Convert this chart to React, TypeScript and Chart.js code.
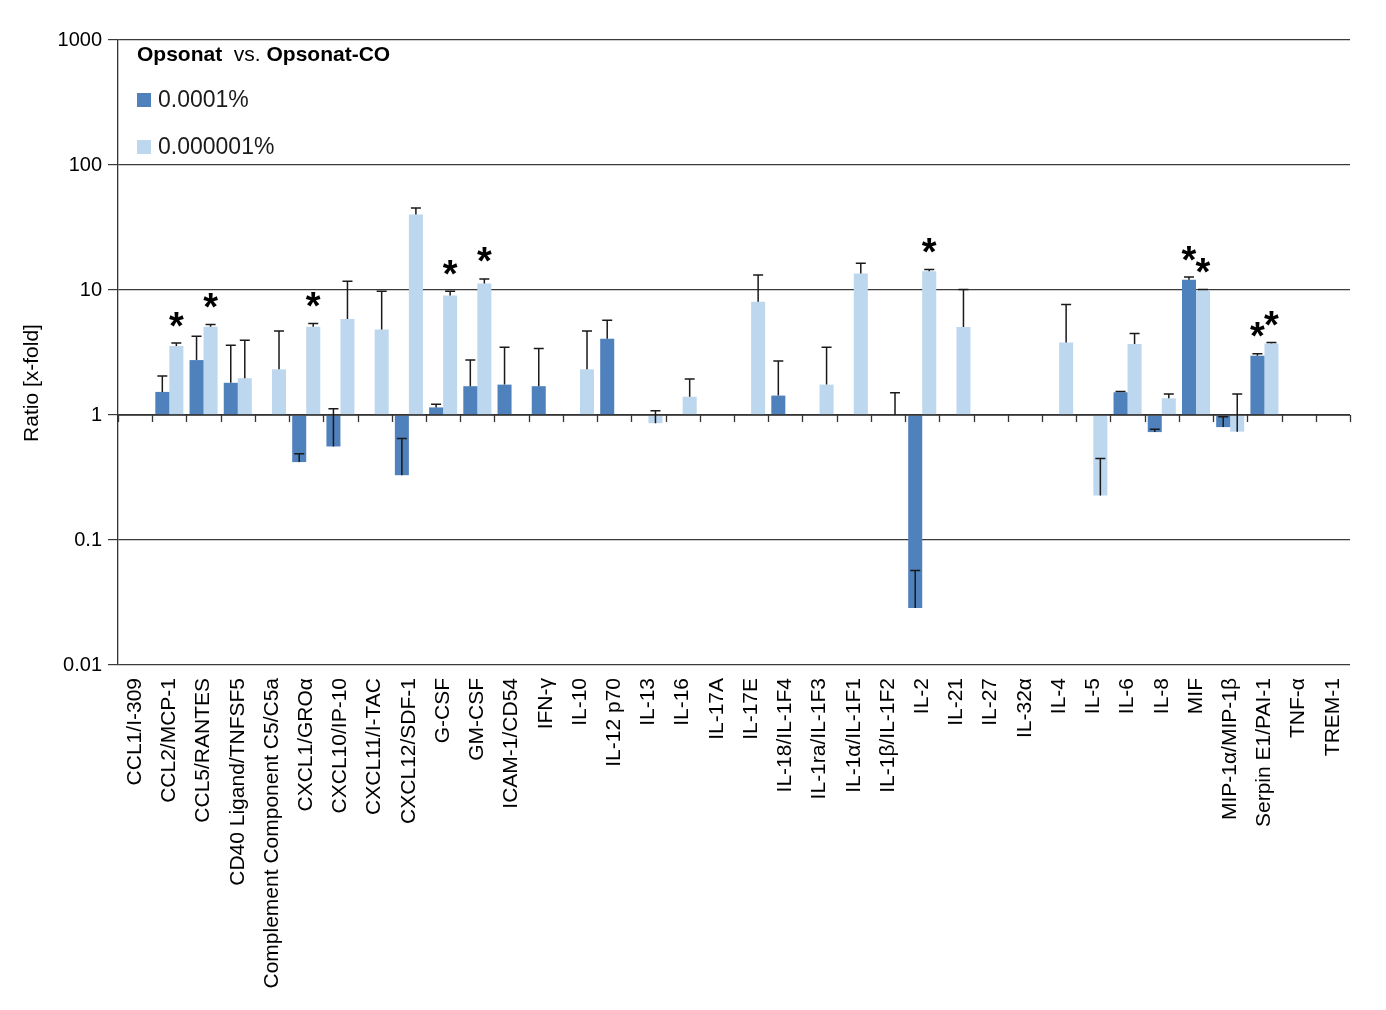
import { useEffect, useRef } from 'react';
import { Chart, registerables } from 'chart.js';

Chart.register(...registerables);

const FONT = '"Liberation Sans", Arial, Helvetica, sans-serif';

const categories = [
  'CCL1/I-309', 'CCL2/MCP-1', 'CCL5/RANTES', 'CD40 Ligand/TNFSF5', 'Complement Component C5/C5a',
  'CXCL1/GROα', 'CXCL10/IP-10', 'CXCL11/I-TAC', 'CXCL12/SDF-1', 'G-CSF', 'GM-CSF', 'ICAM-1/CD54',
  'IFN-γ', 'IL-10', 'IL-12 p70', 'IL-13', 'IL-16', 'IL-17A', 'IL-17E', 'IL-18/IL-1F4', 'IL-1ra/IL-1F3',
  'IL-1α/IL-1F1', 'IL-1β/IL-1F2', 'IL-2', 'IL-21', 'IL-27', 'IL-32α', 'IL-4', 'IL-5', 'IL-6', 'IL-8',
  'MIF', 'MIP-1α/MIP-1β', 'Serpin E1/PAI-1', 'TNF-α', 'TREM-1',
];

const seriesNames = ['0.0001%', '0.000001%'];
const seriesColors = ['#4F81BD', '#BDD7EE'];

// 0.0001% : ratio and upper end of the error bar
const highValues = [
  null, 1.53, 2.75, 1.81, null, 0.42, 0.56, null, 0.33, 1.15, 1.70, 1.75,
  1.70, null, 4.07, null, null, null, null, 1.43, null,
  null, null, 0.0286, null, null, null, null, null, 1.52, 0.73,
  12.1, 0.80, 2.98, null, null,
];
const highErrTop = [
  null, 2.05, 4.27, 3.62, null, 0.49, 1.12, null, 0.65, 1.22, 2.75, 3.49,
  3.41, null, 5.74, null, null, null, null, 2.70, null,
  null, null, 0.057, null, null, null, null, null, 1.54, 0.77,
  12.7, 0.97, 3.09, null, null,
];

// 0.000001% : ratio and upper end of the error bar
const lowValues = [
  null, 3.57, 5.07, 1.97, 2.32, 5.07, 5.85, 4.83, 40.1, 9.04, 11.27, null,
  null, 2.32, null, 0.86, 1.40, null, 8.04, null, 1.75,
  13.55, 1.0, 14.1, 5.05, null, null, 3.81, 0.227, 3.69, 1.36,
  9.96, 0.736, 3.74, null, null,
];
const lowErrTop = [
  null, 3.76, 5.30, 3.97, 4.69, 5.40, 11.75, 9.78, 45.3, 9.78, 12.27, null,
  null, 4.69, null, 1.08, 1.94, null, 13.2, null, 3.49,
  16.4, 1.51, 14.6, 10.1, null, null, 7.66, 0.448, 4.49, 1.47,
  10.1, 1.47, 3.81, null, null,
];

const highStars = ['MIF', 'Serpin E1/PAI-1'];
const lowStars = ['CCL2/MCP-1', 'CCL5/RANTES', 'CXCL1/GROα', 'G-CSF', 'GM-CSF', 'IL-2', 'MIF', 'Serpin E1/PAI-1'];

const yTicks = [0.01, 0.1, 1, 10, 100, 1000];
const yTitle = 'Ratio [x-fold]';
const legendTitle: [string, boolean][] = [['Opsonat', true], ['  vs. ', false], ['Opsonat-CO', true]];

const errTops = [highErrTop, lowErrTop];
const starLists = [highStars, lowStars];

const overlayPlugin = {
  id: 'overlay',
  afterDatasetsDraw(chart: any) {
    const ctx = chart.ctx;
    const y = chart.scales.y;
    const x = chart.scales.x;
    const area = chart.chartArea;
    ctx.save();

    // axis crossing at 1 with category tick marks
    const yBase = y.getPixelForValue(1);
    ctx.strokeStyle = '#333333';
    ctx.lineWidth = 1.3;
    ctx.beginPath();
    ctx.moveTo(area.left, yBase);
    ctx.lineTo(area.right, yBase);
    for (let i = 0; i <= categories.length; i++) {
      const px = Math.round(x.getPixelForValue(i - 0.5)) + 0.5;
      ctx.moveTo(px, yBase);
      ctx.lineTo(px, yBase + 7);
    }
    ctx.stroke();

    // error bars
    ctx.strokeStyle = '#1a1a1a';
    ctx.lineWidth = 1.5;
    chart.data.datasets.forEach((ds: any, di: number) => {
      const meta = chart.getDatasetMeta(di);
      meta.data.forEach((el: any, i: number) => {
        const v = ds.data[i];
        const e = errTops[di][i];
        if (v == null || e == null) return;
        const yv = y.getPixelForValue(v);
        const ye = y.getPixelForValue(e);
        ctx.beginPath();
        ctx.moveTo(el.x, yv);
        ctx.lineTo(el.x, ye);
        ctx.moveTo(el.x - 5, ye);
        ctx.lineTo(el.x + 5, ye);
        ctx.stroke();
      });
    });

    // significance asterisks
    ctx.fillStyle = '#000';
    ctx.font = `bold 38px ${FONT}`;
    ctx.textAlign = 'center';
    ctx.textBaseline = 'alphabetic';
    const m = ctx.measureText('*');
    const shift = (m.actualBoundingBoxAscent - m.actualBoundingBoxDescent) / 2;
    chart.data.datasets.forEach((ds: any, di: number) => {
      const meta = chart.getDatasetMeta(di);
      starLists[di].forEach((name) => {
        const i = categories.indexOf(name);
        const el = meta.data[i];
        const v = ds.data[i];
        const e = errTops[di][i];
        if (!el || v == null) return;
        const top = Math.min(y.getPixelForValue(v), e == null ? Infinity : y.getPixelForValue(e));
        const cy = top - 24;
        ctx.fillText('*', el.x, cy + shift);
      });
    });
    ctx.restore();
  },
  afterDraw(chart: any) {
    const ctx = chart.ctx;
    const area = chart.chartArea;
    ctx.save();
    ctx.fillStyle = '#000';
    ctx.textBaseline = 'alphabetic';
    ctx.textAlign = 'left';
    // legend title
    let tx = area.left + 19;
    const ty = area.top + 21;
    legendTitle.forEach(([t, bold]) => {
      ctx.font = `${bold ? 'bold ' : ''}21px ${FONT}`;
      ctx.fillText(t, tx, ty);
      tx += ctx.measureText(t).width;
    });
    // legend entries
    ctx.font = `23px ${FONT}`;
    ctx.textBaseline = 'middle';
    seriesNames.forEach((name, i) => {
      const cy = area.top + 60 + i * 47;
      ctx.fillStyle = seriesColors[i];
      ctx.fillRect(area.left + 19, cy - 7, 14, 14);
      ctx.fillStyle = '#1a1a1a';
      ctx.fillText(name, area.left + 40, cy + 1);
    });
    // y-axis title
    ctx.translate(32, 383);
    ctx.rotate(-Math.PI / 2);
    ctx.textAlign = 'center';
    ctx.textBaseline = 'middle';
    ctx.font = `21px ${FONT}`;
    ctx.fillStyle = '#000';
    ctx.fillText(yTitle, 0, 0);
    ctx.restore();
  },
};

export default function App() {
  const ref = useRef<HTMLCanvasElement | null>(null);
  useEffect(() => {
    if (!ref.current) return;
    const chart = new Chart(ref.current, {
      type: 'bar',
      data: {
        labels: categories,
        datasets: [
          {
            label: seriesNames[0],
            data: highValues as any,
            backgroundColor: seriesColors[0],
            borderWidth: 0,
            base: 1,
            categoryPercentage: 0.82,
            barPercentage: 1.0,
          } as any,
          {
            label: seriesNames[1],
            data: lowValues as any,
            backgroundColor: seriesColors[1],
            borderWidth: 0,
            base: 1,
            categoryPercentage: 0.82,
            barPercentage: 1.0,
          } as any,
        ],
      },
      options: {
        animation: false,
        responsive: false,
        devicePixelRatio: 1,
        layout: { padding: { top: 40, right: 36, left: 0, bottom: 0 } },
        plugins: {
          legend: { display: false },
          tooltip: { enabled: false },
        },
        scales: {
          x: {
            type: 'category',
            grid: { display: false },
            border: { display: false },
            ticks: {
              autoSkip: false,
              maxRotation: 90,
              minRotation: 90,
              padding: 5,
              color: '#000',
              font: { family: FONT, size: 21 },
            },
            afterFit: (s: any) => {
              s.height = 345;
            },
          },
          y: {
            type: 'logarithmic',
            min: 0.01,
            max: 1000,
            afterBuildTicks: (s: any) => {
              s.ticks = yTicks.map((v) => ({ value: v }));
            },
            afterFit: (s: any) => {
              s.width = 118;
            },
            grid: { color: '#3a3a3a', lineWidth: 1.2, tickLength: 10, drawTicks: true },
            border: { display: true, color: '#333333', width: 1.3 },
            ticks: {
              padding: 6,
              color: '#000',
              font: { family: FONT, size: 20 },
              callback: (v: any) => String(v),
            },
          },
        },
      },
      plugins: [overlayPlugin],
    });
    return () => chart.destroy();
  }, []);

  return (
    <div style={{ position: 'absolute', left: 0, top: 0, width: 1386, height: 1010, background: '#fff' }}>
      <canvas ref={ref} width={1386} height={1010} style={{ display: 'block' }} />
    </div>
  );
}
